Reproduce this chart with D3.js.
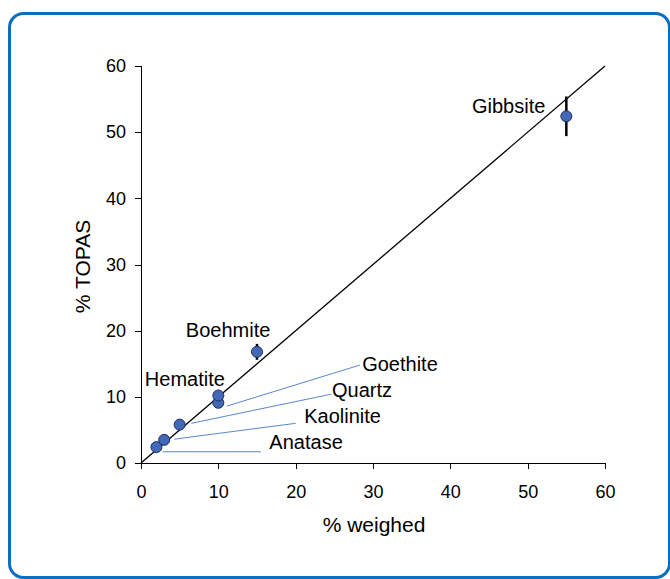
<!DOCTYPE html>
<html>
<head>
<meta charset="utf-8">
<style>
  body { margin: 0; background: #fff; font-family: "Liberation Sans", Arial, sans-serif; }
  .axis path, .axis line { fill: none; stroke: #000; shape-rendering: crispEdges; }
  .axis text { fill: #000; font-family: "Liberation Sans", Arial, sans-serif; font-size: 18px; }
  text.axis_title { font-size: 21px; fill: #000; }
  text.lbl { font-size: 20px; fill: #000; }
</style>
</head>
<body>
<script src="https://cdn.jsdelivr.net/npm/d3@7"></script>
<script>
// minerals: weighed % vs TOPAS %
var names   = ["Anatase", "Kaolinite", "Quartz", "Goethite", "Hematite", "Boehmite", "Gibbsite"];
var weighed = [2, 3, 5, 10, 10, 15, 55];
var topas   = [2.4, 3.5, 5.8, 9.1, 10.2, 16.8, 52.4];
var errs    = [0, 0, 0, 0, 0, 1.2, 3.0];
var ticks   = [0, 10, 20, 30, 40, 50, 60];

// label text spots (data units), leader lines where the label is far away
var labelX  = [16.6, 21.1, 24.7, 28.6, 0.5, 5.8, 42.8];
var labelY  = [2.1, 6.0, 10.0, 13.9, 11.6, 19.0, 52.9];
var leaders = [
  {name: "Anatase",   x1: 2.8,  y1: 1.7, x2: 15.5, y2: 1.7},
  {name: "Kaolinite", x1: 4.3,  y1: 3.6, x2: 20.0, y2: 6.0},
  {name: "Quartz",    x1: 6.5,  y1: 6.0, x2: 24.6, y2: 10.4},
  {name: "Goethite",  x1: 11.1, y1: 8.6, x2: 28.3, y2: 14.8}
];

var W = 670, H = 579;
var margin = {top: 66, left: 141},
    width = 464,
    height = 397;

var svg = d3.select("body").append("svg")
    .attr("width", W)
    .attr("height", H);

// rounded blue frame
svg.append("rect")
    .attr("x", 9.5).attr("y", 13.5)
    .attr("width", 660).attr("height", 564)
    .attr("rx", 14).attr("ry", 14)
    .style("fill", "none")
    .style("stroke", "#0b6fc1")
    .style("stroke-width", 3);

var g = svg.append("g")
    .attr("transform", "translate(" + margin.left + "," + margin.top + ")");

var x = d3.scaleLinear().domain([0, 60]).range([0, width]);
var y = d3.scaleLinear().domain([0, 60]).range([height, 0]);

var xAxis = d3.axisBottom(x).tickValues(ticks).tickSizeOuter(0).tickSize(6).tickPadding(16);
var yAxis = d3.axisLeft(y).tickValues(ticks).tickSizeOuter(0).tickSize(6).tickPadding(9);

g.append("g")
    .attr("class", "x axis")
    .attr("transform", "translate(0," + height + ")")
    .call(xAxis);

g.append("g")
    .attr("class", "y axis")
    .call(yAxis);

g.append("text")
    .attr("class", "axis_title")
    .attr("text-anchor", "middle")
    .attr("x", width / 2 + 1)
    .attr("y", height + 69)
    .text("% weighed");

g.append("text")
    .attr("class", "axis_title")
    .attr("text-anchor", "middle")
    .attr("transform", "translate(-51," + (height / 2 + 2) + ") rotate(-90)")
    .text("% TOPAS");

// 1:1 line
g.append("line")
    .attr("x1", x(0)).attr("y1", y(0))
    .attr("x2", x(60)).attr("y2", y(60))
    .style("stroke", "#000")
    .style("stroke-width", 1.3);

// leader lines
g.selectAll(".leader")
    .data(leaders)
    .enter().append("line")
    .attr("class", "leader")
    .attr("x1", function(d) { return x(d.x1); })
    .attr("y1", function(d) { return y(d.y1); })
    .attr("x2", function(d) { return x(d.x2); })
    .attr("y2", function(d) { return y(d.y2); })
    .style("stroke", "#5a86d0")
    .style("stroke-width", 1);

var idx = d3.range(names.length);

// error bars
g.selectAll(".err")
    .data(idx.filter(function(i) { return errs[i] > 0; }))
    .enter().append("line")
    .attr("class", "err")
    .attr("x1", function(i) { return x(weighed[i]); })
    .attr("x2", function(i) { return x(weighed[i]); })
    .attr("y1", function(i) { return y(topas[i] + errs[i]); })
    .attr("y2", function(i) { return y(topas[i] - errs[i]); })
    .style("stroke", "#000")
    .style("stroke-width", 2.5);

// points
g.selectAll(".pt")
    .data(idx)
    .enter().append("circle")
    .attr("class", "pt")
    .attr("cx", function(i) { return x(weighed[i]); })
    .attr("cy", function(i) { return y(topas[i]); })
    .attr("r", 5.5)
    .style("fill", "#4169b8")
    .style("stroke", "#1c2d5c")
    .style("stroke-width", 1);

// labels
g.selectAll(".lbl")
    .data(idx)
    .enter().append("text")
    .attr("class", "lbl")
    .attr("x", function(i) { return x(labelX[i]); })
    .attr("y", function(i) { return y(labelY[i]); })
    .text(function(i) { return names[i]; });
</script>
</body>
</html>
